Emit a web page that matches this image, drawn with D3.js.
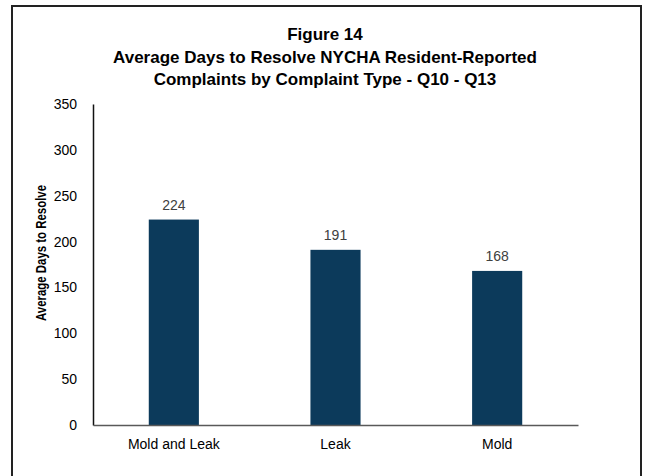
<!DOCTYPE html>
<html>
<head>
<meta charset="utf-8">
<script src="https://cdn.jsdelivr.net/npm/d3@7"></script>
<style>
  body { margin: 0; background: #fff; }
  svg text { font-family: "Liberation Sans Narrow", "Arial Narrow", "Liberation Sans", Arial, sans-serif; }
</style>
</head>
<body>
<svg id="chart"></svg>
<script>
// data
var categories = ["Mold and Leak", "Leak", "Mold"];
var avgDays = [224, 191, 168];
var yTicks = [0, 50, 100, 150, 200, 250, 300, 350];
var titleLines = ["Figure 14", "Average Days to Resolve NYCHA Resident-Reported", "Complaints by Complaint Type - Q10 - Q13"];

var W = 647, H = 476;
var margin = { top: 104, right: 69, bottom: 51, left: 93 },
    width = W - margin.left - margin.right,
    height = H - margin.top - margin.bottom;

var svg = d3.select("#chart").attr("width", W).attr("height", H);

// outer frame
svg.append("rect")
    .attr("x", 12).attr("y", 6)
    .attr("width", 629).attr("height", 480)
    .attr("fill", "none")
    .attr("stroke", "#222")
    .attr("stroke-width", 2);

// title
svg.append("text")
    .attr("x", 325)
    .attr("text-anchor", "middle")
    .style("font-size", "17px")
    .style("font-weight", "bold")
    .style("fill", "#000")
    .selectAll("tspan")
    .data(titleLines)
    .enter().append("tspan")
    .attr("x", 325)
    .attr("y", function(d, i) { return 40 + i * 22.5; })
    .text(function(d) { return d; });

var g = svg.append("g")
    .attr("transform", "translate(" + margin.left + "," + margin.top + ")");

var x = d3.scaleBand()
    .domain(categories)
    .range([0, width])
    .paddingInner(0.69)
    .paddingOuter(0.345);

var y = d3.scaleLinear().domain([0, 350]).range([height, 0]);

// bars
g.selectAll(".bar")
    .data(avgDays)
    .enter().append("rect")
    .attr("class", "bar")
    .attr("x", function(d, i) { return x(categories[i]); })
    .attr("y", function(d) { return y(d); })
    .attr("width", x.bandwidth())
    .attr("height", function(d) { return height - y(d); })
    .attr("fill", "#0c3a5b");

// value labels
g.selectAll(".val")
    .data(avgDays)
    .enter().append("text")
    .attr("class", "val")
    .attr("x", function(d, i) { return x(categories[i]) + x.bandwidth() / 2; })
    .attr("y", function(d) { return y(d) - 10; })
    .attr("text-anchor", "middle")
    .style("font-size", "14px")
    .style("fill", "#404040")
    .text(function(d) { return d; });

// y axis
var yAxis = g.append("g")
    .call(d3.axisLeft(y).tickValues(yTicks).tickSize(0).tickPadding(16));
yAxis.select(".domain").attr("stroke", "#111").attr("stroke-width", 1.5);
yAxis.selectAll("text").style("font-size", "14px").style("fill", "#000");

// x axis
var xAxis = g.append("g")
    .attr("transform", "translate(0," + height + ")")
    .call(d3.axisBottom(x).tickSize(0).tickPadding(14));
xAxis.select(".domain").attr("stroke", "#595959").attr("stroke-width", 1.5);
xAxis.selectAll("text").style("font-size", "14px").style("fill", "#000");

// y axis title (narrow face, so squeeze it to the reference length)
svg.append("text")
    .attr("transform", "translate(46," + 253 + ") rotate(-90)")
    .attr("text-anchor", "middle")
    .attr("textLength", 136)
    .attr("lengthAdjust", "spacingAndGlyphs")
    .style("font-size", "15.5px")
    .style("font-weight", "bold")
    .style("fill", "#000")
    .text("Average Days to Resolve");
</script>
</body>
</html>
